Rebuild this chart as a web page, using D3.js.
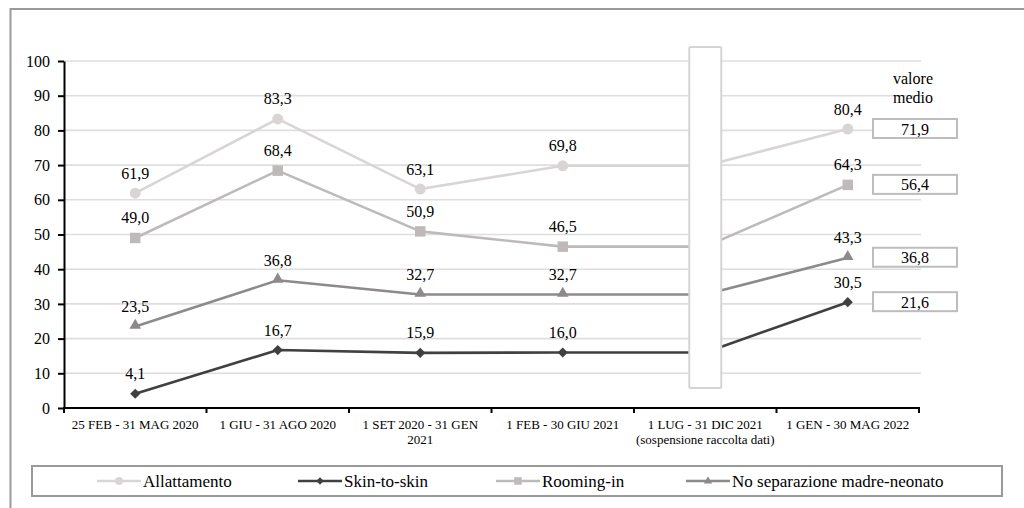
<!DOCTYPE html>
<html>
<head>
<meta charset="utf-8">
<script src="https://cdn.jsdelivr.net/npm/d3@7"></script>
<style>
  body { margin: 0; background: #fff; }
  svg { display: block; }
</style>
</head>
<body>
<svg id="chart" width="1024" height="508" font-family="Liberation Serif"></svg>
<script>
// Reporting periods (x categories); long ones wrap onto two lines
const categories = [
  "25 FEB - 31 MAG 2020",
  "1 GIU - 31 AGO 2020",
  "1 SET 2020 - 31 GEN 2021",
  "1 FEB - 30 GIU 2021",
  "1 LUG - 31 DIC 2021",
  "1 GEN - 30 MAG 2022"
];
const categoryLines = [
  ["25 FEB - 31 MAG 2020"],
  ["1 GIU - 31 AGO 2020"],
  ["1 SET 2020 - 31 GEN", "2021"],
  ["1 FEB - 30 GIU 2021"],
  ["1 LUG - 31 DIC 2021", "(sospensione raccolta dati)"],
  ["1 GEN - 30 MAG 2022"]
];

// Percentages per period (null = data collection suspended)
const allattamento  = [61.9, 83.3, 63.1, 69.8, null, 80.4];
const skinToSkin    = [4.1, 16.7, 15.9, 16.0, null, 30.5];
const roomingIn     = [49.0, 68.4, 50.9, 46.5, null, 64.3];
const noSeparazione = [23.5, 36.8, 32.7, 32.7, null, 43.3];

const seriesNames = ["Allattamento", "Skin-to-skin", "Rooming-in", "No separazione madre-neonato"];
// Mean value over the whole period, same order as seriesNames
const valoreMedio = [71.9, 21.6, 56.4, 36.8];

const yTicks = [0, 10, 20, 30, 40, 50, 60, 70, 80, 90, 100];
const suspendedIndex = 4;

const FONT = "Liberation Serif";

const series = [
  { name: seriesNames[0], values: allattamento,  mean: valoreMedio[0], color: "#dad5d5", symbol: "circle" },
  { name: seriesNames[1], values: skinToSkin,    mean: valoreMedio[1], color: "#404040", symbol: "diamond" },
  { name: seriesNames[2], values: roomingIn,     mean: valoreMedio[2], color: "#bfbaba", symbol: "square" },
  { name: seriesNames[3], values: noSeparazione, mean: valoreMedio[3], color: "#8e8a8a", symbol: "triangle" }
];
// drawing order: lighter lines underneath
const drawOrder = [0, 2, 3, 1];

const it = d3.formatLocale({ decimal: ",", thousands: ".", grouping: [3], currency: ["", "€"] });
const fmt = it.format(".1f");

const svg = d3.select("#chart");

// Outer frame
svg.append("rect")
  .attr("x", 10.5).attr("y", 9).attr("width", 1030).attr("height", 520)
  .attr("fill", "none").attr("stroke", "#9a9a9a").attr("stroke-width", 2);

const plot = { left: 64, right: 919, top: 61, bottom: 408 };

const x = d3.scaleBand().domain(categories).range([plot.left, plot.right]).padding(0);
const cx = c => x(c) + x.bandwidth() / 2;
const y = d3.scaleLinear().domain([0, 100]).range([plot.bottom, plot.top]);

// Gridlines
svg.append("g")
  .selectAll("line")
  .data(yTicks.filter(t => t > 0))
  .join("line")
  .attr("x1", plot.left).attr("x2", plot.right + 2)
  .attr("y1", d => y(d)).attr("y2", d => y(d))
  .attr("stroke", "#dedede").attr("stroke-width", 1.6);

// Series lines: during the suspended period the last value is held flat
function pathPoints(values) {
  const pts = [];
  let last = null;
  values.forEach((v, i) => {
    const val = v == null ? last : v;
    if (val != null) pts.push([cx(categories[i]), y(val)]);
    if (v != null) last = v;
  });
  return pts;
}
const line = d3.line();

const linesG = svg.append("g");
drawOrder.forEach(si => {
  const s = series[si];
  linesG.append("path")
    .attr("d", line(pathPoints(s.values)))
    .attr("fill", "none")
    .attr("stroke", s.color)
    .attr("stroke-width", 2.6)
    .attr("stroke-linejoin", "round");
});

// Blank panel over the suspended period
const gapX = cx(categories[suspendedIndex]);
svg.append("rect")
  .attr("x", gapX - 16).attr("y", 47)
  .attr("width", 32).attr("height", 341)
  .attr("rx", 1.5)
  .attr("fill", "#fff").attr("stroke", "#d6d3d3").attr("stroke-width", 2);

// Marker shapes
function markerPath(kind, scale) {
  const k = scale || 1;
  if (kind === "circle") return d3.symbol(d3.symbolCircle, 95 * k * k)();
  if (kind === "square") return d3.symbol(d3.symbolSquare, 110 * k * k)();
  if (kind === "diamond") return d3.symbol(d3.symbolSquare, 52 * k * k)();
  return d3.symbol(d3.symbolTriangle, 58 * k * k)();
}

const markG = svg.append("g");
const labelG = svg.append("g");
drawOrder.forEach(si => {
  const s = series[si];
  s.values.forEach((v, i) => {
    if (v == null) return;
    const px = cx(categories[i]), py = y(v);
    markG.append("path")
      .attr("d", markerPath(s.symbol))
      .attr("transform", `translate(${px},${py})` + (s.symbol === "diamond" ? " rotate(45)" : "") + (s.symbol === "triangle" ? " translate(0,-1)" : ""))
      .attr("fill", s.color);
    labelG.append("text")
      .attr("x", px).attr("y", py - 14.5)
      .attr("text-anchor", "middle")
      .attr("font-family", FONT)
      .attr("font-size", 16)
      .text(fmt(v));
  });
});

// Mean value boxes, aligned with each series' last point
const lastIdx = categories.length - 1;
svg.append("text")
  .attr("x", 913).attr("text-anchor", "middle")
  .attr("font-family", FONT).attr("font-size", 16)
  .selectAll("tspan")
  .data(["valore", "medio"])
  .join("tspan")
  .attr("x", 913)
  .attr("y", (d, i) => 83.5 + i * 19)
  .text(d => d);

const meanG = svg.append("g");
series.forEach(s => {
  const my = y(s.values[lastIdx]);
  meanG.append("rect")
    .attr("x", 873).attr("y", my - 10)
    .attr("width", 84).attr("height", 19)
    .attr("fill", "#fff").attr("stroke", "#bdbdbd").attr("stroke-width", 2);
  meanG.append("text")
    .attr("x", 915).attr("y", my + 5.5)
    .attr("text-anchor", "middle")
    .attr("font-family", FONT).attr("font-size", 16)
    .text(fmt(s.mean));
});

// Y axis
const yAxis = svg.append("g")
  .attr("transform", `translate(${plot.left},0)`)
  .call(d3.axisLeft(y).tickValues(yTicks).tickSize(6).tickSizeOuter(0).tickPadding(8).tickFormat(d3.format("d")));
yAxis.attr("font-family", FONT);
yAxis.select(".domain").attr("stroke", "#000").attr("stroke-width", 2);
yAxis.selectAll(".tick line").attr("stroke", "#000").attr("stroke-width", 2);
yAxis.selectAll(".tick text").attr("font-family", FONT).attr("font-size", 16).attr("fill", "#000");

// X axis: ticks on band boundaries, labels centred in each band
const xAxis = svg.append("g");
xAxis.append("line")
  .attr("x1", plot.left - 1).attr("x2", plot.right + 1)
  .attr("y1", plot.bottom).attr("y2", plot.bottom)
  .attr("stroke", "#000").attr("stroke-width", 2);
const boundaries = categories.map(c => x(c)).concat([plot.right]);
xAxis.selectAll("line.tk")
  .data(boundaries)
  .join("line")
  .attr("class", "tk")
  .attr("x1", d => d).attr("x2", d => d)
  .attr("y1", plot.bottom).attr("y2", plot.bottom + 5)
  .attr("stroke", "#000").attr("stroke-width", 2);
categoryLines.forEach((lines, i) => {
  const t = xAxis.append("text")
    .attr("text-anchor", "middle")
    .attr("font-family", FONT)
    .attr("font-size", 13);
  lines.forEach((ln, j) => {
    t.append("tspan")
      .attr("x", cx(categories[i]))
      .attr("y", 428.5 + j * 15)
      .text(ln);
  });
});

// Legend
const legend = svg.append("g");
legend.append("rect")
  .attr("x", 32).attr("y", 466).attr("width", 970).attr("height", 30)
  .attr("fill", "#fff").attr("stroke", "#9a9a9a").attr("stroke-width", 2);
const legendX = [97, 298, 496, 686];
series.forEach((s, i) => {
  const lx = legendX[i];
  const ly = 481;
  legend.append("line")
    .attr("x1", lx).attr("x2", lx + 44)
    .attr("y1", ly).attr("y2", ly)
    .attr("stroke", s.color).attr("stroke-width", 2.4);
  legend.append("path")
    .attr("d", markerPath(s.symbol, 0.72))
    .attr("transform", `translate(${lx + 22},${ly})` + (s.symbol === "diamond" ? " rotate(45)" : ""))
    .attr("fill", s.color);
  legend.append("text")
    .attr("x", lx + 46).attr("y", ly + 6)
    .attr("font-family", FONT)
    .attr("font-size", 17)
    .text(s.name);
});
</script>
</body>
</html>
